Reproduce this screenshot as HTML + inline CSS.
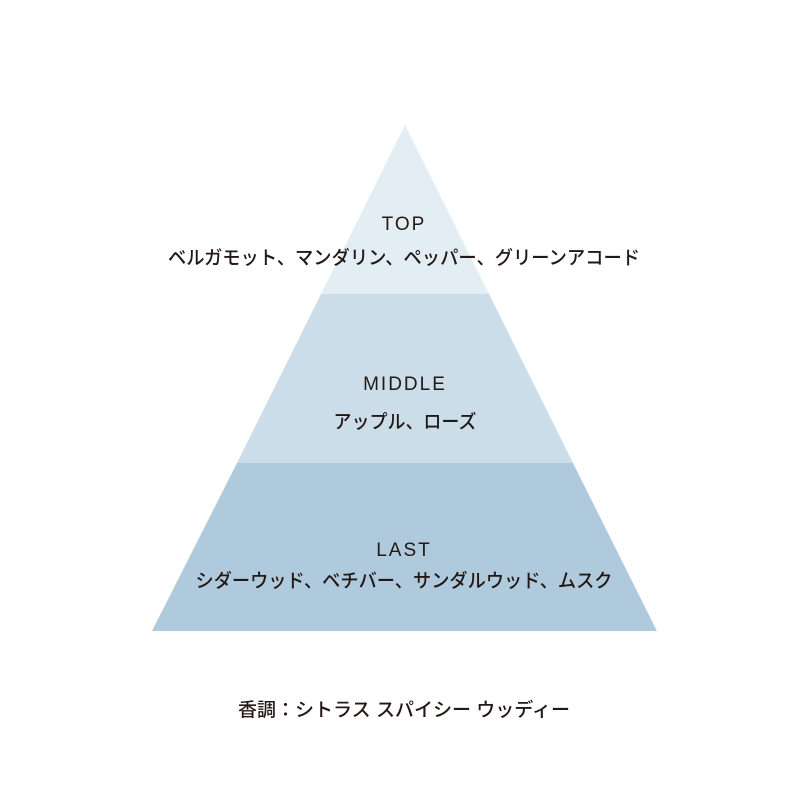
<!DOCTYPE html>
<html><head><meta charset="utf-8"><style>html,body{margin:0;padding:0;background:#fff}</style></head>
<body>
<svg width="800" height="800" viewBox="0 0 800 800" xmlns="http://www.w3.org/2000/svg" font-family="'Liberation Sans','Noto Sans CJK JP',sans-serif" fill="#231815">
<rect width="800" height="800" fill="#fff"/>
<polygon points="405,125 489,294 321,294" fill="#e3edf4"/>
<polygon points="321,294 489,294 573,463 237,463" fill="#cbdde8"/>
<polygon points="237,463 573,463 657,631 152,631" fill="#afcadd"/>
<g text-anchor="middle" font-weight="500">
<text x="404" y="230" font-size="19" letter-spacing="2">TOP</text>
<text x="404" y="264" font-size="19" textLength="472" lengthAdjust="spacingAndGlyphs">ベルガモット、マンダリン、ペッパー、グリーンアコード</text>
<text x="405" y="390" font-size="19" letter-spacing="2">MIDDLE</text>
<text x="405" y="428" font-size="19" textLength="143" lengthAdjust="spacingAndGlyphs">アップル、ローズ</text>
<text x="404" y="556" font-size="19" letter-spacing="2">LAST</text>
<text x="404" y="587" font-size="19" textLength="417" lengthAdjust="spacingAndGlyphs">シダーウッド、ベチバー、サンダルウッド、ムスク</text>
<text x="404" y="716" font-size="19" textLength="332" lengthAdjust="spacingAndGlyphs">香調：シトラス スパイシー ウッディー</text>
</g>
</svg>
</body></html>
